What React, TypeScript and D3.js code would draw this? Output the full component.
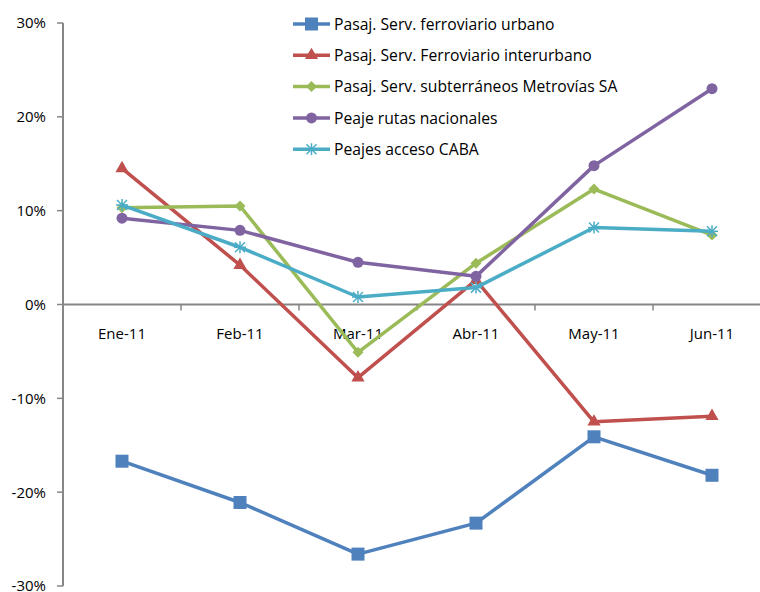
import React from "react";
import * as d3 from "d3";

const months = ["Ene-11", "Feb-11", "Mar-11", "Abr-11", "May-11", "Jun-11"];
const urbano = [-16.7, -21.1, -26.6, -23.3, -14.1, -18.2];
const interurbano = [14.5, 4.2, -7.8, 2.6, -12.5, -11.9];
const subte = [10.3, 10.5, -5.1, 4.4, 12.3, 7.4];
const rutas = [9.2, 7.9, 4.5, 3.0, 14.8, 23.0];
const caba = [10.6, 6.1, 0.8, 1.8, 8.2, 7.8];
const yTicks = [30, 20, 10, 0, -10, -20, -30];

type Marker = "square" | "triangle" | "diamond" | "circle" | "asterisk";
const series: { name: string; values: number[]; color: string; marker: Marker }[] = [
  { name: "Pasaj. Serv. ferroviario urbano", values: urbano, color: "#4F81BD", marker: "square" },
  { name: "Pasaj. Serv. Ferroviario interurbano", values: interurbano, color: "#C0504D", marker: "triangle" },
  { name: "Pasaj. Serv. subterráneos Metrovías SA", values: subte, color: "#9BBB59", marker: "diamond" },
  { name: "Peaje rutas nacionales", values: rutas, color: "#8064A2", marker: "circle" },
  { name: "Peajes acceso CABA", values: caba, color: "#4BACC6", marker: "asterisk" },
];

const W = 760;
const H = 592;
const left = 63;
const right = 771;
const top = 23;
const bottom = 586;
const font = "'Open Sans', Lato, sans-serif";

const x = d3.scaleBand<string>().domain(months).range([left, right]);
const y = d3.scaleLinear().domain([-30, 30]).range([bottom, top]);

function MarkerShape({ kind, cx, cy, color }: { kind: Marker; cx: number; cy: number; color: string }) {
  switch (kind) {
    case "square":
      return <rect x={cx - 6.5} y={cy - 6.5} width={13} height={13} fill={color} />;
    case "triangle":
      return <path d={d3.symbol(d3.symbolTriangle, 75)()!} transform={`translate(${cx},${cy})`} fill={color} />;
    case "diamond":
      return <path d={`M${cx},${cy - 5.5}L${cx + 5.5},${cy}L${cx},${cy + 5.5}L${cx - 5.5},${cy}Z`} fill={color} />;
    case "circle":
      return <circle cx={cx} cy={cy} r={5.5} fill={color} />;
    case "asterisk":
      return (
        <g stroke={color} strokeWidth={1.5}>
          <line x1={cx - 6} y1={cy} x2={cx + 6} y2={cy} />
          <line x1={cx} y1={cy - 6} x2={cx} y2={cy + 6} />
          <line x1={cx - 5} y1={cy - 5} x2={cx + 5} y2={cy + 5} />
          <line x1={cx - 5} y1={cy + 5} x2={cx + 5} y2={cy - 5} />
        </g>
      );
  }
}

export default function App() {
  const line = d3
    .line<number>()
    .x((_, i) => (x(months[i]) ?? 0) + x.bandwidth() / 2)
    .y((d) => y(d));

  return (
    <svg width={W} height={H} style={{ position: "absolute", left: 0, top: 0, background: "#fff" }} fontFamily={font}>
      {/* value axis */}
      <line x1={left} y1={top} x2={left} y2={bottom} stroke="#868686" strokeWidth={2} />
      {yTicks.map((t) => (
        <g key={t}>
          <line x1={left - 6} y1={y(t)} x2={left} y2={y(t)} stroke="#868686" strokeWidth={1.5} />
          <text x={46} y={y(t)} dy="0.36em" textAnchor="end" fontSize={15} fill="#000">
            {`${t}%`}
          </text>
        </g>
      ))}
      {/* category axis at zero */}
      <line x1={left} y1={y(0)} x2={right} y2={y(0)} stroke="#868686" strokeWidth={2} />
      {months.map((m, i) => (
        <g key={m}>
          {i > 0 && <line x1={x(m)} y1={y(0)} x2={x(m)} y2={y(0) + 6} stroke="#868686" strokeWidth={1.5} />}
          <text x={(x(m) ?? 0) + x.bandwidth() / 2} y={339} textAnchor="middle" fontSize={15} fill="#000">
            {m}
          </text>
        </g>
      ))}
      {/* series */}
      {series.map((s) => (
        <g key={s.name}>
          <path d={line(s.values) ?? ""} fill="none" stroke={s.color} strokeWidth={3.5} strokeLinejoin="round" />
          {s.values.map((v, i) => (
            <MarkerShape key={i} kind={s.marker} cx={(x(months[i]) ?? 0) + x.bandwidth() / 2} cy={y(v)} color={s.color} />
          ))}
        </g>
      ))}
      {/* legend */}
      {series.map((s, i) => {
        const ly = 24 + i * 31.3;
        return (
          <g key={s.name}>
            <line x1={293} y1={ly} x2={330} y2={ly} stroke={s.color} strokeWidth={3.5} />
            <MarkerShape kind={s.marker} cx={311.5} cy={ly} color={s.color} />
            <text x={334} y={ly} dy="0.36em" fontSize={15.7} fill="#000">
              {s.name}
            </text>
          </g>
        );
      })}
    </svg>
  );
}
